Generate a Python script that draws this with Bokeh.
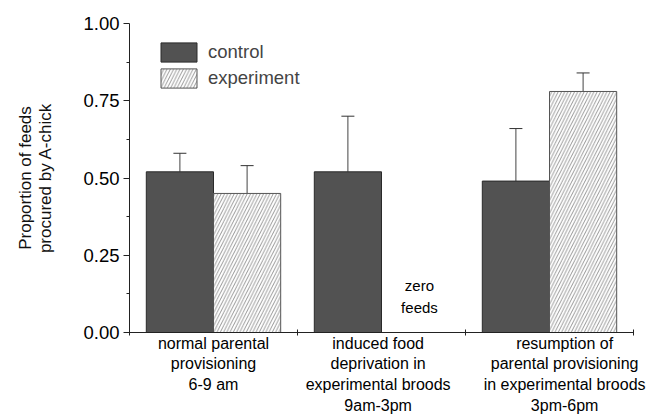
from bokeh.plotting import figure
from bokeh.models import (Range1d, FixedTicker, LinearAxis, Label, Legend, LegendItem,
                          ColumnDataSource, Whisker, TeeHead, NumeralTickFormatter)
from bokeh.embed import file_html
from bokeh.resources import INLINE

# ---- data ----
categories = ["normal parental\nprovisioning\n6-9 am",
              "induced food\ndeprivation in\nexperimental broods\n9am-3pm",
              "resumption of\nparental provisioning\nin experimental broods\n3pm-6pm"]
control = [0.52, 0.52, 0.49]
control_upper = [0.58, 0.70, 0.66]
experiment = [0.45, 0.0, 0.78]
experiment_upper = [0.54, None, 0.84]
y_ticks = [0.0, 0.25, 0.5, 0.75, 1.0]
series_names = ["control", "experiment"]
note_text = "zero\nfeeds"

# ---- style ----
FONT = "Liberation Sans"
label_pos = [0.5, 1.48, 2.59]
bar_w = 0.4

p = figure(width=651, height=417, output_backend="svg", toolbar_location=None,
           x_range=Range1d(0, 3), y_range=Range1d(0, 1),
           min_border_left=129, min_border_right=18, min_border_top=23, min_border_bottom=85,
           x_axis_type=None, y_axis_type=None)
p.outline_line_color = None
p.xgrid.visible = False
p.ygrid.visible = False
p.background_fill_color = "white"

idx = list(range(len(categories)))
cx = [i + 0.5 - bar_w / 2 for i in idx]
ex = [i + 0.5 + bar_w / 2 for i in idx]

r_ctrl = p.vbar(x=cx, top=control, width=bar_w, bottom=0,
                fill_color="#525252", line_color="#2a2a2a", line_width=1)
r_exp = p.vbar(x=ex, top=experiment, width=bar_w, bottom=0,
               fill_color="white", line_color="#555555", line_width=1,
               hatch_pattern="/", hatch_color="#7a7a7a", hatch_scale=6.5, hatch_weight=0.8)

# error bars (upper only)
wx, wl, wu = [], [], []
for xs, vals, ups in ((cx, control, control_upper), (ex, experiment, experiment_upper)):
    for x, v, u in zip(xs, vals, ups):
        if u is not None:
            wx.append(x); wl.append(v); wu.append(u)
wsrc = ColumnDataSource(dict(x=wx, lower=wl, upper=wu))
p.add_layout(Whisker(source=wsrc, base="x", lower="lower", upper="upper",
                     dimension="height", line_color="#444444", line_width=1,
                     lower_head=None,
                     upper_head=TeeHead(size=13, line_color="#333333", line_width=1)))

# y axis
yaxis = LinearAxis(ticker=FixedTicker(ticks=y_ticks,
                                      minor_ticks=[0.125, 0.375, 0.625, 0.875]),
                   formatter=NumeralTickFormatter(format="0.00"))
yaxis.axis_label = "Proportion of feeds\nprocured by A-chick"
yaxis.axis_label_text_font = FONT
yaxis.axis_label_text_font_size = "17px"
yaxis.axis_label_text_font_style = "normal"
yaxis.axis_label_text_color = "#111111"
yaxis.axis_label_text_line_height = 1.1
yaxis.axis_label_standoff = 25
yaxis.major_label_text_font = FONT
yaxis.major_label_text_font_size = "18.5px"
yaxis.major_label_text_color = "black"
yaxis.major_label_standoff = 4
yaxis.major_tick_out = 6
yaxis.major_tick_in = 0
yaxis.minor_tick_out = 3
yaxis.minor_tick_in = 0
yaxis.axis_line_color = "#222222"
yaxis.major_tick_line_color = "#222222"
yaxis.minor_tick_line_color = "#222222"
p.add_layout(yaxis, "left")

# x axis (ticks at category boundaries)
xaxis = LinearAxis(ticker=FixedTicker(ticks=[0, 1, 2, 3], minor_ticks=[]))
xaxis.major_label_text_font_size = "0px"
xaxis.major_label_standoff = 0
xaxis.major_tick_out = 3
xaxis.major_tick_in = 3
xaxis.axis_line_color = "#222222"
xaxis.major_tick_line_color = "#222222"
p.add_layout(xaxis, "below")

# category labels as a second, line-less axis
caxis = LinearAxis(ticker=FixedTicker(ticks=label_pos, minor_ticks=[]))
caxis.major_label_overrides = {pos: txt for pos, txt in zip(label_pos, categories)}
caxis.axis_line_color = None
caxis.major_tick_line_color = None
caxis.major_tick_out = 0
caxis.major_tick_in = 0
caxis.major_label_standoff = -1
caxis.major_label_text_font = FONT
caxis.major_label_text_font_size = "16px"
caxis.major_label_text_color = "black"
caxis.major_label_text_line_height = 1.22
p.add_layout(caxis, "below")

# zero feeds note
p.add_layout(Label(x=1.726, y=0.181, text=note_text, text_align="center",
                   text_baseline="top", text_font=FONT, text_font_size="15px",
                   text_line_height=1.3, text_color="black"))

legend = Legend(items=[LegendItem(label=series_names[0], renderers=[r_ctrl]),
                       LegendItem(label=series_names[1], renderers=[r_exp])],
                location=(27, 242), orientation="vertical",
                glyph_width=45, glyph_height=24, label_height=24, label_standoff=7,
                spacing=2, padding=0, margin=0,
                label_text_font=FONT, label_text_font_size="18.5px",
                label_text_line_height=1.0,
                border_line_color=None, background_fill_alpha=0)
p.add_layout(legend)

open("out.html", "w").write(file_html(p, INLINE))
